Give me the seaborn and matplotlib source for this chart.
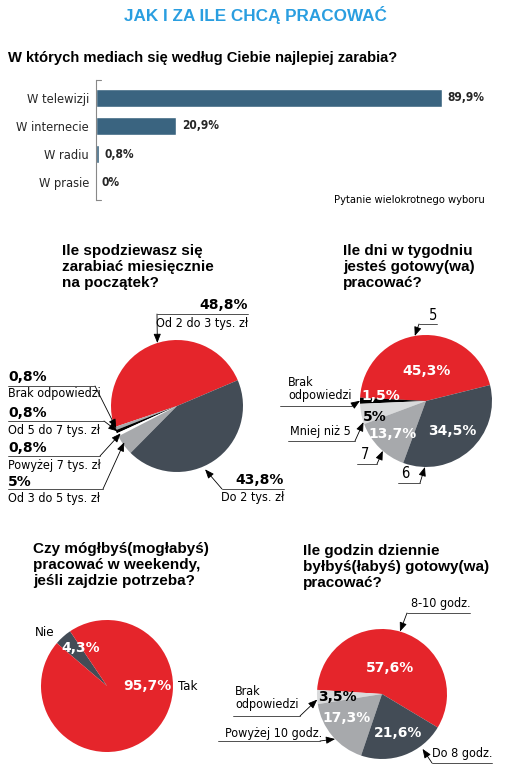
import numpy as np
import matplotlib
matplotlib.use('Agg')
import matplotlib.pyplot as plt
from matplotlib.lines import Line2D
import seaborn as sns

# data
media_cats = ['W telewizji', 'W internecie', 'W radiu', 'W prasie']
media_vals = [89.9, 20.9, 0.8, 0.0]

pay_labels = ['Od 2 do 3 tys. zł', 'Brak odpowiedzi', 'Od 5 do 7 tys. zł',
              'Powyżej 7 tys. zł', 'Od 3 do 5 tys. zł', 'Do 2 tys. zł']
pay_vals = [48.8, 0.8, 0.8, 0.8, 5.0, 43.8]

days_labels = ['5', 'Brak odpowiedzi', 'Mniej niż 5', '7', '6']
days_vals = [45.3, 1.5, 5.0, 13.7, 34.5]

weekend_labels = ['Nie', 'Tak']
weekend_vals = [4.3, 95.7]

hours_labels = ['8-10 godz.', 'Brak odpowiedzi', 'Powyżej 10 godz.', 'Do 8 godz.']
hours_vals = [57.6, 3.5, 17.3, 21.6]

RED = '#e5252b'
DARK = '#434c56'
GRAY = '#a7a9ac'
LIGHT = '#d9dadb'
BAR = '#3a6480'
BLUE = '#2a9ee0'

W, H = 510, 780
sns.set_style('white')
plt.rcParams['font.family'] = ['DejaVu Sans']
plt.rcParams['font.stretch'] = 'condensed'
TITLE_FONT = ['Liberation Sans', 'DejaVu Sans']
LBL = 9.0    # condensed label size
PCT = 10.0   # bold percentage size

fig = plt.figure(figsize=(W / 100, H / 100), dpi=100)


def fx(x):
    return x / W


def fy(y):
    return 1 - y / H


def txt(x, y, s, size=LBL, style='label', color='black', ha='left', va='center', **kw):
    if style == 'title':
        kw.update(family=TITLE_FONT, fontweight='bold', fontstretch='normal')
    elif style == 'pct':
        kw.update(family=['DejaVu Sans'], fontweight='bold', fontstretch='normal')
    else:
        kw.update(fontstretch='condensed')
    fig.text(fx(x), fy(y), s, fontsize=size, color=color, ha=ha, va=va, **kw)


def pct(x, y, s, color='black', ha='center'):
    txt(x, y, s, size=PCT, style='pct', color=color, ha=ha)


def pie_axes(cx, cy, r):
    return fig.add_axes([fx(cx - r), fy(cy + r), 2 * r / W, 2 * r / H])


def draw_pie(ax, vals, colors, start):
    wedges, _ = ax.pie(vals, colors=colors, startangle=start, counterclock=True,
                       wedgeprops={'linewidth': 0})
    ax.set_xlim(-1, 1)
    ax.set_ylim(-1, 1)
    ax.set_aspect('equal')
    ax.axis('off')
    return wedges


def leader(ax, wedge, t, pts, r=1.0):
    # underline / bend in figure pixels, then arrow into the wedge
    xs = [fx(p[0]) for p in pts]
    ys = [fy(p[1]) for p in pts]
    fig.add_artist(Line2D(xs, ys, transform=fig.transFigure, color='#333333', lw=0.6))
    th = np.deg2rad(wedge.theta1 + t * (wedge.theta2 - wedge.theta1))
    ax.annotate('', xy=(r * np.cos(th), r * np.sin(th)), xycoords='data',
                xytext=(xs[-1], ys[-1]), textcoords='figure fraction',
                arrowprops=dict(arrowstyle='-|>,head_length=0.55,head_width=0.22',
                                color='black', lw=0.6, shrinkA=0, shrinkB=0),
                annotation_clip=False)


# main title
txt(255, 15, 'JAK I ZA ILE CHCĄ PRACOWAĆ', size=12.3, style='title', color=BLUE, ha='center')

# bar chart
txt(8, 58, 'W których mediach się według Ciebie najlepiej zarabia?', size=10.6, style='title')
axb = fig.add_axes([fx(96), fy(200), 385 / W, 120 / H])
sns.barplot(x=media_vals, y=media_cats, orient='h', color=BAR, width=0.64,
            saturation=1, ax=axb)
axb.set_xlim(0, 100)
axb.set_ylim(3.64, -0.64)
for s in ['top', 'right', 'bottom']:
    axb.spines[s].set_visible(False)
axb.spines['left'].set_color('#888888')
axb.spines['left'].set_linewidth(0.8)
axb.plot([0, 0.013], [1, 1], transform=axb.transAxes, color='#888888', lw=0.8, clip_on=False)
axb.plot([0, 0.013], [0, 0], transform=axb.transAxes, color='#888888', lw=0.8, clip_on=False)
axb.set_xticks([])
axb.tick_params(axis='y', length=0, pad=5, labelsize=9.2)
axb.set_xlabel('')
axb.set_ylabel('')
axb.bar_label(axb.containers[0], labels=[f'{v:.1f}%'.replace('.', ',') if v > 0 else '0%' for v in media_vals],
              padding=4, fontsize=8.6, fontweight='bold')
txt(485, 200, 'Pytanie wielokrotnego wyboru', size=8, ha='right')

# pie 1 - salary
txt(62, 244, 'Ile spodziewasz się\nzarabiać miesięcznie\nna początek?', size=11, style='title',
    va='top', linespacing=1.2)
ax1 = pie_axes(177, 406, 66)
w1 = draw_pie(ax1, pay_vals, [RED, GRAY, 'black', 'white', GRAY, DARK], 23)
pct(248, 305, '48,8%', ha='right')
txt(248, 323, pay_labels[0], ha='right')
leader(ax1, w1[0], 0.48, [(248, 314), (157, 314)])
left_rows = [(377, 1, 0.5, [(8, 386), (95, 386)], 0.98),
             (413, 2, 0.5, [(8, 421), (104, 421)], 0.98),
             (448, 3, 0.5, [(8, 456), (100, 456)], 0.95),
             (482, 4, 0.4, [(8, 489), (103, 489)], 0.97)]
for y, i, t, pts, r in left_rows:
    pct(8, y, f'{pay_vals[i]:g}%'.replace('.', ','), ha='left')
    txt(8, y + 17, pay_labels[i])
    leader(ax1, w1[i], t, pts, r)
pct(284, 480, '43,8%', ha='right')
txt(284, 498, pay_labels[5], ha='right')
leader(ax1, w1[5], 0.435, [(284, 489), (222, 489)], 1.05)

# pie 2 - days
txt(343, 244, 'Ile dni w tygodniu\njesteś gotowy(wa)\npracować?', size=11, style='title',
    va='top', linespacing=1.2)
ax2 = pie_axes(426, 401, 66)
w2 = draw_pie(ax2, days_vals, [RED, 'black', LIGHT, GRAY, DARK], 14)
txt(433, 315, days_labels[0], size=10.5, ha='center')
leader(ax2, w2[0], 0.526, [(437, 324), (419, 324)])
txt(288, 389, 'Brak\nodpowiedzi', linespacing=1.0)
leader(ax2, w2[1], 0.5, [(280, 406), (352, 406)])
txt(290, 432, days_labels[2])
leader(ax2, w2[2], 0.9, [(288, 441), (355, 441)])
txt(365, 454, days_labels[3], size=10.5, ha='center')
leader(ax2, w2[3], 0.58, [(357, 464), (377, 464)])
txt(405, 474, days_labels[4], size=10.5, ha='center')
leader(ax2, w2[4], 0.155, [(398, 483), (420, 483)])
pct(427, 371, '45,3%', color='white')
pct(381, 396, '1,5%', color='white')
pct(375, 417, '5%')
pct(393, 434, '13,7%', color='white')
pct(452, 431, '34,5%', color='white')

# pie 3 - weekend
txt(33, 542, 'Czy mógłbyś(mogłabyś)\npracować w weekendy,\njeśli zajdzie potrzeba?', size=11, style='title',
    va='top', linespacing=1.2)
ax3 = pie_axes(107, 686, 66)
draw_pie(ax3, weekend_vals, [DARK, RED], 124)
txt(45, 633, weekend_labels[0], size=9.5, ha='center')
pct(81, 648, '4,3%', color='white')
pct(147, 686, '95,7%', color='white')
txt(188, 686, weekend_labels[1], size=9.5, ha='center')

# pie 4 - hours
txt(303, 544, 'Ile godzin dziennie\nbyłbyś(łabyś) gotowy(wa)\npracować?', size=11, style='title',
    va='top', linespacing=1.2)
ax4 = pie_axes(382, 694, 65)
w4 = draw_pie(ax4, hours_vals, [RED, LIGHT, GRAY, DARK], -31)
txt(441, 603, hours_labels[0], ha='center')
leader(ax4, w4[0], 0.506, [(470, 613), (407, 613)])
txt(235, 698, 'Brak\nodpowiedzi', linespacing=1.0)
leader(ax4, w4[1], 0.68, [(233, 716), (300, 716)])
txt(225, 733, hours_labels[2])
leader(ax4, w4[2], 0.56, [(218, 741), (320, 741)])
txt(462, 753, hours_labels[3], ha='center')
leader(ax4, w4[3], 0.71, [(492, 763), (432, 763)], 1.05)
pct(390, 668, '57,6%', color='white')
pct(337, 697, '3,5%')
pct(347, 718, '17,3%', color='white')
pct(398, 733, '21,6%', color='white')

fig.savefig('out.png', dpi=100, facecolor='white')
